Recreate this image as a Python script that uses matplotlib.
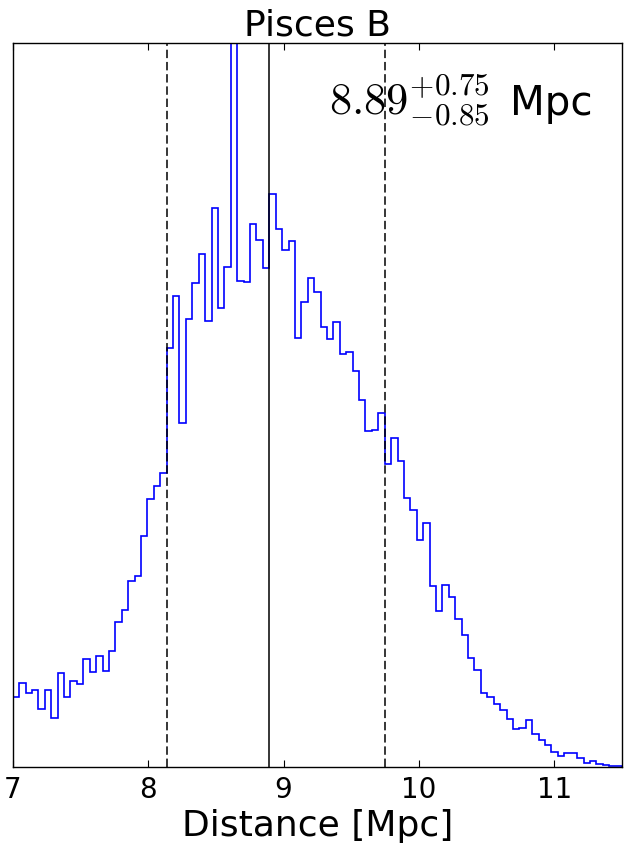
import numpy as np
import matplotlib
matplotlib.use('Agg')
import matplotlib.pyplot as plt

plt.rcParams['mathtext.fontset'] = 'cm'
plt.rcParams['font.family'] = 'DejaVu Sans'

# histogram of distance samples (arbitrary count units)
bin_lo, bin_hi, n_bins = 7.0, 11.5, 95
counts = [
    70.6, 84.6, 74.0, 77.3, 58.0, 77.3, 49.3, 94.6, 70.6, 86.6,
    83.0, 108.0, 95.3, 111.3, 96.3, 116.3, 144.8, 157.3, 186.0, 191.0,
    231.0, 268.6, 281.6, 294.0, 419.0, 471.6, 344.6, 448.0, 484.0, 513.6,
    446.6, 559.6, 459.0, 500.6, 780.0, 486.6, 485.0, 543.0, 527.3, 499.0,
    573.6, 538.3, 517.6, 526.0, 429.6, 465.0, 489.6, 475.6, 440.6, 428.3,
    445.3, 413.0, 415.6, 396.3, 367.6, 336.6, 337.6, 354.0, 303.0, 329.8,
    306.6, 269.0, 257.6, 227.3, 244.3, 181.3, 156.3, 182.3, 170.6, 148.3,
    132.6, 109.0, 97.3, 74.0, 70.3, 63.3, 57.3, 48.3, 38.6, 39.0,
    47.3, 33.0, 27.3, 22.0, 15.3, 11.0, 14.0, 14.6, 9.0, 4.6,
    6.0, 3.3, 2.3, 1.0, 1.3,
]
edges = np.linspace(bin_lo, bin_hi, n_bins + 1)

median = 8.89
err_hi = 0.75
err_lo = 0.85
# dashed interval markers as drawn in the figure
interval = [8.14, 9.75]

fig = plt.figure(figsize=(6.24, 8.44), dpi=100)
ax = fig.add_axes([0.0204, 0.0909, 0.9764, 0.8587])

ax.stairs(counts, edges, color='b', lw=1.2)
ax.axvline(median, color='k', lw=1.1)
for v in interval:
    ax.axvline(v, color='k', lw=1.1, ls=(0, (5.5, 2.5)))

ax.set_xlim(7, 11.5)
ax.set_ylim(0, 724.8)
ax.set_yticks([])
ax.set_xticks([7, 8, 9, 10, 11])
ax.tick_params(axis='x', direction='in', top=True, length=5, width=0.8,
               labelsize=20, pad=6)
for s in ax.spines.values():
    s.set_linewidth(1.0)

ax.set_title('Pisces B', fontsize=26, pad=5)
ax.set_xlabel('Distance [Mpc]', fontsize=26, labelpad=4)
ax.text(0.519, 0.9, r'$%.2f^{+%.2f}_{-%.2f}$' % (median, err_hi, err_lo),
        transform=ax.transAxes, ha='left', va='baseline', fontsize=32)
ax.text(0.951, 0.9, 'Mpc', transform=ax.transAxes, ha='right',
        va='baseline', fontsize=29)

fig.savefig('out.png', dpi=100)
